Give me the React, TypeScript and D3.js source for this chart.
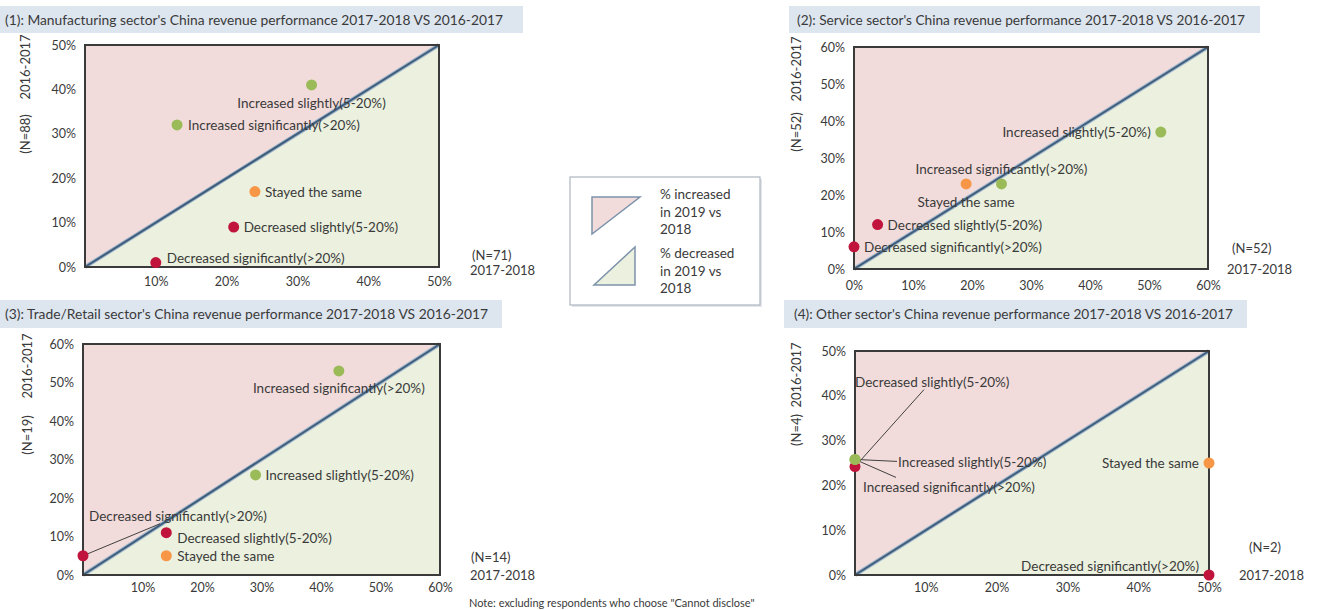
import React, { useEffect, useRef } from "react";
import * as d3 from "d3";

const CATEGORIES = [
  "Increased significantly(>20%)",
  "Increased slightly(5-20%)",
  "Stayed the same",
  "Decreased slightly(5-20%)",
  "Decreased significantly(>20%)",
];
const CATEGORY_TREND = ["up", "up", "same", "down", "down"];

const PANEL_TITLES = [
  "(1): Manufacturing sector's China revenue performance 2017-2018 VS 2016-2017",
  "(2): Service sector's China revenue performance 2017-2018 VS 2016-2017",
  "(3): Trade/Retail sector's China revenue performance 2017-2018 VS 2016-2017",
  "(4): Other sector's China revenue performance 2017-2018 VS 2016-2017",
];

const AXIS_MAX = [50, 60, 60, 50];
const X_TICKS = [
  [10, 20, 30, 40, 50],
  [0, 10, 20, 30, 40, 50, 60],
  [10, 20, 30, 40, 50, 60],
  [10, 20, 30, 40, 50],
];
const Y_TICKS = [
  [0, 10, 20, 30, 40, 50],
  [0, 10, 20, 30, 40, 50, 60],
  [0, 10, 20, 30, 40, 50, 60],
  [0, 10, 20, 30, 40, 50],
];
const Y_N = ["(N=88)", "(N=52)", "(N=19)", "(N=4)"];
const X_N = ["(N=71)", "(N=52)", "(N=14)", "(N=2)"];
const Y_PERIOD = "2016-2017";
const X_PERIOD = "2017-2018";

// share of respondents (%), same order as CATEGORIES
const MANUFACTURING_2018 = [13, 32, 24, 21, 10];
const MANUFACTURING_2017 = [32, 41, 17, 9, 1];
const SERVICE_2018 = [25, 52, 19, 4, 0];
const SERVICE_2017 = [23, 37, 23, 12, 6];
const TRADE_2018 = [43, 29, 14, 14, 0];
const TRADE_2017 = [53, 26, 5, 11, 5];
const OTHER_2018 = [0, 0, 50, 0, 50];
const OTHER_2017 = [25.8, 25.8, 25, 24.2, 0];

const LEGEND_UP = ["% increased", "in 2019 vs", "2018"];
const LEGEND_DOWN = ["% decreased", "in 2019 vs", "2018"];
const NOTE = 'Note: excluding respondents who choose "Cannot disclose"';

const PANELS = [
  { x: MANUFACTURING_2018, y: MANUFACTURING_2017 },
  { x: SERVICE_2018, y: SERVICE_2017 },
  { x: TRADE_2018, y: TRADE_2017 },
  { x: OTHER_2018, y: OTHER_2017 },
];

const TREND_COLORS: Record<string, string> = {
  up: "#9bbb59",
  same: "#f79646",
  down: "#c0143c",
};
const PINK = "#f2dcdb";
const GREEN = "#ebf1de";
const TEXT = "#3a3a3a";
const FONT = "Lato, 'Liberation Sans', sans-serif";

type Anchor = "start" | "middle" | "end";

// pixel layout of each panel (positions only)
const LAYOUT = [
  {
    band: [0, 6, 523, 33],
    title: [5, 20, 498],
    plot: [85, 45, 439, 267],
    xTickDy: 16,
    yLabelX: 25,
    yPeriodY: 67,
    yNY: 134,
    xN: [472, 255],
    xPeriod: [470, 270],
    labels: [
      [11, 0, "start"],
      [0, 18, "middle"],
      [10, 0, "start"],
      [10, 0, "start"],
      [11, -5, "start"],
    ],
    leaders: [] as number[][],
  },
  {
    band: [789, 6, 1260, 33],
    title: [797, 20, 448],
    plot: [854, 47, 1208, 269],
    xTickDy: 18,
    yLabelX: 796,
    yPeriodY: 69,
    yNY: 132,
    xN: [1232, 248],
    xPeriod: [1227, 269],
    labels: [
      [0, -15, "middle"],
      [-10, 0, "end"],
      [0, 18, "middle"],
      [10, 0, "start"],
      [10, 0, "start"],
    ],
    leaders: [] as number[][],
  },
  {
    band: [0, 300, 502, 328],
    title: [5, 314, 483],
    plot: [83, 344, 440, 575],
    xTickDy: 14,
    yLabelX: 27,
    yPeriodY: 366,
    yNY: 435,
    xN: [471, 557],
    xPeriod: [470, 575],
    labels: [
      [0, 17, "middle"],
      [10, 0, "start"],
      [11, 0, "start"],
      [11, 5, "start"],
      [6, -40, "start"],
    ],
    leaders: [[4, 77, -32]],
  },
  {
    band: [784, 300, 1247, 328],
    title: [794, 314, 439],
    plot: [855, 351, 1209, 575],
    xTickDy: 14,
    yLabelX: 796,
    yPeriodY: 375,
    yNY: 430,
    xN: [1249, 547],
    xPeriod: [1239, 575],
    labels: [
      [8, 28, "start"],
      [43, 3, "start"],
      [-10, 0, "end"],
      [0, -85, "start"],
      [-10, -9, "end"],
    ],
    leaders: [
      [0, 41, 18],
      [1, 42, 2],
      [3, 69, -77],
    ],
  },
];

export default function App() {
  const svgRef = useRef<SVGSVGElement>(null);

  useEffect(() => {
    if (!svgRef.current) return;
    const svg = d3.select(svgRef.current);
    svg.selectAll("*").remove();

    PANELS.forEach((panel, i) => {
      const lay = LAYOUT[i];
      const m = AXIS_MAX[i];
      const g = svg.append("g");

      // title band
      g.append("rect")
        .attr("x", lay.band[0])
        .attr("y", lay.band[1])
        .attr("width", lay.band[2] - lay.band[0])
        .attr("height", lay.band[3] - lay.band[1])
        .attr("fill", "#dde5ef");
      g.append("text")
        .attr("x", lay.title[0])
        .attr("y", lay.title[1])
        .attr("dominant-baseline", "central")
        .attr("font-size", 13)
        .attr("fill", TEXT)
        .attr("textLength", lay.title[2])
        .attr("lengthAdjust", "spacingAndGlyphs")
        .text(PANEL_TITLES[i]);

      const x = d3.scaleLinear().domain([0, m]).range([lay.plot[0], lay.plot[2]]);
      const y = d3.scaleLinear().domain([0, m]).range([lay.plot[3], lay.plot[1]]);

      // background triangles
      g.append("path")
        .attr("d", `M${x(0)},${y(0)}L${x(0)},${y(m)}L${x(m)},${y(m)}Z`)
        .attr("fill", PINK);
      g.append("path")
        .attr("d", `M${x(0)},${y(0)}L${x(m)},${y(m)}L${x(m)},${y(0)}Z`)
        .attr("fill", GREEN);

      // diagonal
      const diag = d3
        .line<number>()
        .x((d) => x(d))
        .y((d) => y(d));
      g.append("path")
        .attr("d", diag([0, m]))
        .attr("fill", "none")
        .attr("stroke", "#9fb6cc")
        .attr("stroke-width", 4);
      g.append("path")
        .attr("d", diag([0, m]))
        .attr("fill", "none")
        .attr("stroke", "#3f5d7a")
        .attr("stroke-width", 2);

      // frame
      g.append("rect")
        .attr("x", x(0))
        .attr("y", y(m))
        .attr("width", x(m) - x(0))
        .attr("height", y(0) - y(m))
        .attr("fill", "none")
        .attr("stroke", "#3a3a3a")
        .attr("stroke-width", 2);

      // axes
      const yAxis = g
        .append("g")
        .attr("transform", `translate(${x(0)},0)`)
        .call(
          d3
            .axisLeft(y)
            .tickValues(Y_TICKS[i])
            .tickSize(0)
            .tickPadding(9)
            .tickFormat((d) => `${d}%`)
        );
      yAxis.select(".domain").remove();
      yAxis
        .selectAll("text")
        .attr("fill", TEXT)
        .attr("font-size", 12.5)
        .attr("font-family", FONT);

      const xAxis = g
        .append("g")
        .attr("transform", `translate(0,${y(0)})`)
        .call(
          d3
            .axisBottom(x)
            .tickValues(X_TICKS[i])
            .tickSize(0)
            .tickPadding(lay.xTickDy - 6)
            .tickFormat((d) => `${d}%`)
        );
      xAxis.select(".domain").remove();
      xAxis
        .selectAll("text")
        .attr("fill", TEXT)
        .attr("font-size", 12.5)
        .attr("font-family", FONT);

      // axis titles
      [
        [Y_PERIOD, lay.yPeriodY],
        [Y_N[i], lay.yNY],
      ].forEach(([label, cy]) => {
        g.append("text")
          .attr("transform", `translate(${lay.yLabelX},${cy}) rotate(-90)`)
          .attr("text-anchor", "middle")
          .attr("dominant-baseline", "central")
          .attr("font-size", 13)
          .attr("fill", TEXT)
          .text(label as string);
      });
      g.append("text")
        .attr("x", lay.xN[0])
        .attr("y", lay.xN[1])
        .attr("dominant-baseline", "central")
        .attr("font-size", 13)
        .attr("fill", TEXT)
        .text(X_N[i]);
      g.append("text")
        .attr("x", lay.xPeriod[0])
        .attr("y", lay.xPeriod[1])
        .attr("dominant-baseline", "central")
        .attr("font-size", 13)
        .attr("fill", TEXT)
        .text(X_PERIOD);

      // leader lines
      lay.leaders.forEach(([k, dx, dy]) => {
        const px = x(panel.x[k]);
        const py = y(panel.y[k]);
        g.append("line")
          .attr("x1", px)
          .attr("y1", py)
          .attr("x2", px + dx)
          .attr("y2", py + dy)
          .attr("stroke", "#404040")
          .attr("stroke-width", 1);
      });

      // points
      const idx = d3.range(CATEGORIES.length).reverse();
      g.selectAll("circle.pt")
        .data(idx)
        .enter()
        .append("circle")
        .attr("class", "pt")
        .attr("cx", (k) => x(panel.x[k]))
        .attr("cy", (k) => y(panel.y[k]))
        .attr("r", 5.5)
        .attr("fill", (k) => TREND_COLORS[CATEGORY_TREND[k]]);

      // point labels
      CATEGORIES.forEach((label, k) => {
        const [dx, dy, anchor] = lay.labels[k] as [number, number, Anchor];
        g.append("text")
          .attr("x", x(panel.x[k]) + dx)
          .attr("y", y(panel.y[k]) + dy)
          .attr("text-anchor", anchor)
          .attr("dominant-baseline", "central")
          .attr("font-size", 13.5)
          .attr("fill", TEXT)
          .text(label);
      });
    });

    // legend
    const lg = svg.append("g");
    lg.append("rect")
      .attr("x", 572)
      .attr("y", 179)
      .attr("width", 190)
      .attr("height", 128)
      .attr("fill", "#e4e6ea");
    lg.append("rect")
      .attr("x", 570)
      .attr("y", 177)
      .attr("width", 190)
      .attr("height", 128)
      .attr("fill", "#ffffff")
      .attr("stroke", "#aeb6c2")
      .attr("stroke-width", 1.2);
    lg.append("path")
      .attr("d", "M592,197L640,197L592,234Z")
      .attr("fill", PINK)
      .attr("stroke", "#7d93ab")
      .attr("stroke-width", 1.5);
    lg.append("path")
      .attr("d", "M635,247L635,285L594,285Z")
      .attr("fill", GREEN)
      .attr("stroke", "#7d93ab")
      .attr("stroke-width", 1.5);
    [
      [LEGEND_UP, 194],
      [LEGEND_DOWN, 253],
    ].forEach(([lines, y0]) => {
      (lines as string[]).forEach((line, j) => {
        lg.append("text")
          .attr("x", 660)
          .attr("y", (y0 as number) + j * 17.5)
          .attr("dominant-baseline", "central")
          .attr("font-size", 13.5)
          .attr("fill", TEXT)
          .text(line);
      });
    });

    svg
      .append("text")
      .attr("x", 469)
      .attr("y", 602)
      .attr("dominant-baseline", "central")
      .attr("font-size", 11)
      .attr("fill", TEXT)
      .text(NOTE);
  }, []);

  return (
    <svg
      ref={svgRef}
      width={1319}
      height={610}
      style={{ position: "absolute", left: 0, top: 0, fontFamily: FONT, background: "#ffffff" }}
    ></svg>
  );
}
